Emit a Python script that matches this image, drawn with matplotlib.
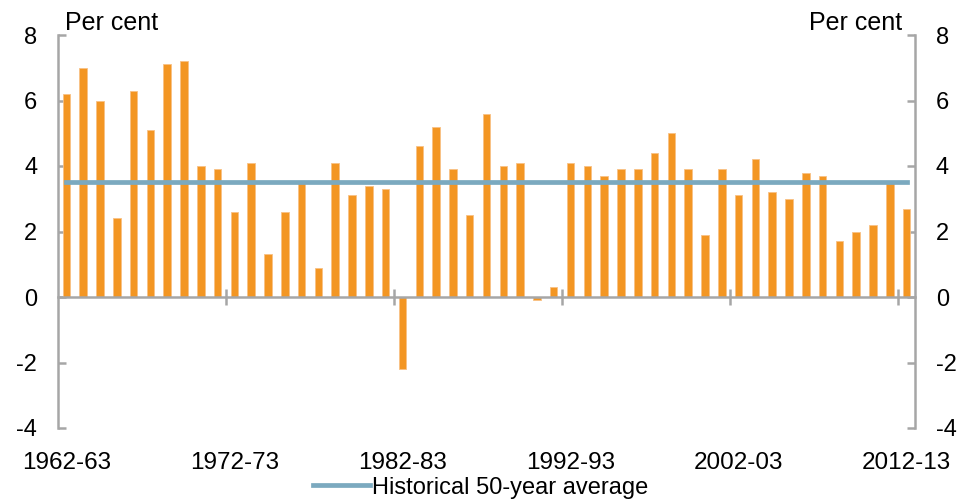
import matplotlib.pyplot as plt
from matplotlib.lines import Line2D
from matplotlib.transforms import blended_transform_factory

# Financial years 1962-63 to 2012-13
years = [f"{y}-{str(y + 1)[-2:]}" for y in range(1962, 2013)]
growth = [6.2, 7.0, 6.0, 2.4, 6.3, 5.1, 7.1, 7.2, 4.0, 3.9,
          2.6, 4.1, 1.3, 2.6, 3.5, 0.9, 4.1, 3.1, 3.4, 3.3,
          -2.2, 4.6, 5.2, 3.9, 2.5, 5.6, 4.0, 4.1, -0.1, 0.3,
          4.1, 4.0, 3.7, 3.9, 3.9, 4.4, 5.0, 3.9, 1.9, 3.9,
          3.1, 4.2, 3.2, 3.0, 3.8, 3.7, 1.7, 2.0, 2.2, 3.5,
          2.7]
hist_avg = 3.52
label_years = ["1962-63", "1972-73", "1982-83", "1992-93", "2002-03", "2012-13"]

bar_color = "#F39623"
line_color = "#7BA9BF"
axis_color = "#A6A6A6"

plt.rcParams['font.family'] = ['Liberation Sans', 'DejaVu Sans']
plt.rcParams['axes.unicode_minus'] = False

fig = plt.figure(figsize=(9.61, 5.0), dpi=100)
ax = fig.add_axes([58 / 961, 1 - 428 / 500, (915 - 58) / 961, (428 - 35) / 500])

x = list(range(len(years)))
ax.bar(x, growth, width=0.45, color=bar_color, edgecolor="#F8C185", linewidth=0.6, zorder=2)
ax.plot([0, len(years) - 1], [hist_avg, hist_avg], color=line_color, lw=3.4, zorder=3,
        solid_capstyle='projecting')

ax.set_xlim(-0.5, len(years) - 0.5)
ax.set_ylim(-4, 8)
ax.set_yticks(range(-4, 9, 2))

# spines
ax.spines['top'].set_visible(False)
ax.spines['bottom'].set_position(('data', 0))
for s in ['left', 'right', 'bottom']:
    ax.spines[s].set_color(axis_color)
    ax.spines[s].set_linewidth(1.8)

# y ticks both sides, inward
ax.yaxis.set_ticks_position('both')
ax.tick_params(axis='y', direction='in', length=6, width=1.8, color=axis_color,
               labelleft=True, labelright=True, labelsize=17, pad=15)

# x ticks between category groups, crossing the zero line
ax.set_xticks([i + 9.5 for i in range(0, 50, 10)])
ax.tick_params(axis='x', direction='inout', length=12, width=1.8, color=axis_color,
               labelbottom=False)

trans = blended_transform_factory(ax.transData, ax.transAxes)
for lab in label_years:
    ax.text(years.index(lab), -0.09, lab, transform=trans, ha='center', va='center',
            fontsize=17.5)

ax.text(0.008, 1.03, "Per cent", transform=ax.transAxes, ha='left', va='center', fontsize=18)
ax.text(0.985, 1.03, "Per cent", transform=ax.transAxes, ha='right', va='center', fontsize=18)

handle = Line2D([], [], color=line_color, lw=3.4)
fig.legend([handle], ["Historical 50-year average"], loc='lower center',
           bbox_to_anchor=(0.5, -0.04), frameon=False, fontsize=17,
           handlelength=2.4, handletextpad=0.1)

fig.savefig("out.png", dpi=100)
